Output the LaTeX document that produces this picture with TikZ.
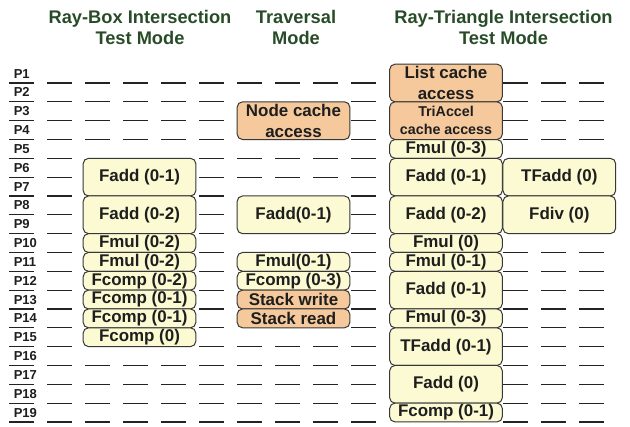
\documentclass[tikz,border=0pt]{standalone}
\usepackage{fontspec}
\setmainfont{Liberation Sans}

\definecolor{hdgreen}{RGB}{40,76,40}
\definecolor{linegray}{RGB}{35,35,35}
\definecolor{boxedge}{RGB}{55,55,55}
\definecolor{txtdark}{RGB}{30,30,30}
\definecolor{cellyellow}{RGB}{251,250,211}
\definecolor{cellorange}{RGB}{245,201,155}

% y of the k-th row line
\newcommand{\rowy}[1]{64.17+18.83*(#1)}

\begin{document}
\begin{tikzpicture}[x=0.75pt,y=0.75pt,yscale=-1,xscale=1,
  rowline/.style={line width=0.9pt, color=linegray},
  cell/.style={draw=boxedge, line width=0.75pt, rounded corners=4pt, inner sep=0pt,
    minimum width=84.5pt, align=center, text=txtdark,
    font=\fontsize{12.7}{15.5}\selectfont\bfseries},
  ycell/.style={cell, fill=cellyellow},
  ocell/.style={cell, fill=cellorange},
  one/.style={minimum height=14.12pt},
  two/.style={minimum height=28.25pt},
  header/.style={align=center, text=hdgreen, inner sep=0pt,
    font=\fontsize{13.7}{15.75}\selectfont\bfseries},
  plabel/.style={anchor=west, inner sep=0pt, text=txtdark,
    font=\fontsize{9.75}{11}\selectfont\bfseries}
]
\useasboundingbox (0,0) rectangle (630,426);

% Headers
\node[header] (hbox) at (140,27.5) {Ray-Box Intersection\\Test Mode};
\node[header] (htrav) at (296,27.5) {Traversal\\Mode};
\node[header] (htri) at (503.5,27.5) {Ray-Triangle Intersection\\Test Mode};

% Row labels and their lines
\foreach \k in {1,...,19} {
  \node[plabel] (p\k) at (13.5,{\rowy{\k-0.5}}) {P\k};
  \draw[rowline] (9,{\rowy{\k}}) -- (34,{\rowy{\k}});
  % free columns
  \foreach \x in {47,199,351}
    \draw[rowline] (\x,{\rowy{\k}}) -- ++(25,0);
}

% Empty slots, ray-box columns
\foreach \k in {1,2,3,4,16,17,18,19}
  \foreach \x in {85,123,161}
    \draw[rowline] (\x,{\rowy{\k}}) -- ++(25,0);
% Empty slots, traversal columns
\foreach \k in {1,5,6,15,16,17,18,19}
  \foreach \x in {237,275,313}
    \draw[rowline] (\x,{\rowy{\k}}) -- ++(25,0);
% Empty slots, last columns
\foreach \k in {1,2,3,4,10,11,...,19}
  \foreach \x in {503,541,579}
    \draw[rowline] (\x,{\rowy{\k}}) -- ++(25,0);

% Ray-box intersection test
\node[ycell,two] (lfadda) at (139.5,{\rowy{6}}) {Fadd (0-1)};
\node[ycell,two] (lfaddb) at (139.5,{\rowy{8}}) {Fadd (0-2)};
\node[ycell,one] (lfmula) at (139.5,{\rowy{9.5}}) {Fmul (0-2)};
\node[ycell,one] (lfmulb) at (139.5,{\rowy{10.5}}) {Fmul (0-2)};
\node[ycell,one] (lfcmpa) at (139.5,{\rowy{11.5}}) {Fcomp (0-2)};
\node[ycell,one] (lfcmpb) at (139.5,{\rowy{12.5}}) {Fcomp (0-1)};
\node[ycell,one] (lfcmpc) at (139.5,{\rowy{13.5}}) {Fcomp (0-1)};
\node[ycell,one] (lfcmpd) at (139.5,{\rowy{14.5}}) {Fcomp (0)};

% Traversal
\node[ocell,two] (nodecache) at (293.5,{\rowy{3}}) {Node cache\\access};
\node[ycell,two] (mfadd) at (293.5,{\rowy{8}}) {Fadd(0-1)};
\node[ycell,one] (mfmul) at (293.5,{\rowy{10.5}}) {Fmul(0-1)};
\node[ycell,one] (mfcmp) at (293.5,{\rowy{11.5}}) {Fcomp (0-3)};
\node[ocell,one] (stackwr) at (293.5,{\rowy{12.5}}) {Stack write};
\node[ocell,one] (stackrd) at (293.5,{\rowy{13.5}}) {Stack read};

% Ray-triangle intersection test
\node[ocell,two] (listcache) at (446,{\rowy{1}}) {List cache\\access};
\node[ocell,two,font=\fontsize{10.7}{13.5}\selectfont\bfseries] (triaccel) at (446,{\rowy{3}}) {TriAccel\\cache access};
\node[ycell,one] (rfmula) at (446,{\rowy{4.5}}) {Fmul (0-3)};
\node[ycell,two] (rfadda) at (446,{\rowy{6}}) {Fadd (0-1)};
\node[ycell,two] (rfaddb) at (446,{\rowy{8}}) {Fadd (0-2)};
\node[ycell,one] (rfmulb) at (446,{\rowy{9.5}}) {Fmul (0)};
\node[ycell,one] (rfmulc) at (446,{\rowy{10.5}}) {Fmul (0-1)};
\node[ycell,two] (rfaddc) at (446,{\rowy{12}}) {Fadd (0-1)};
\node[ycell,one] (rfmuld) at (446,{\rowy{13.5}}) {Fmul (0-3)};
\node[ycell,two] (rtfadd) at (446,{\rowy{15}}) {TFadd (0-1)};
\node[ycell,two] (rfaddd) at (446,{\rowy{17}}) {Fadd (0)};
\node[ycell,one] (rfcmp) at (446,{\rowy{18.5}}) {Fcomp (0-1)};

\node[ycell,two] (ftfadd) at (559.3,{\rowy{6}}) {TFadd (0)};
\node[ycell,two] (fdiv) at (559.3,{\rowy{8}}) {Fdiv (0)};

\end{tikzpicture}
\end{document}
